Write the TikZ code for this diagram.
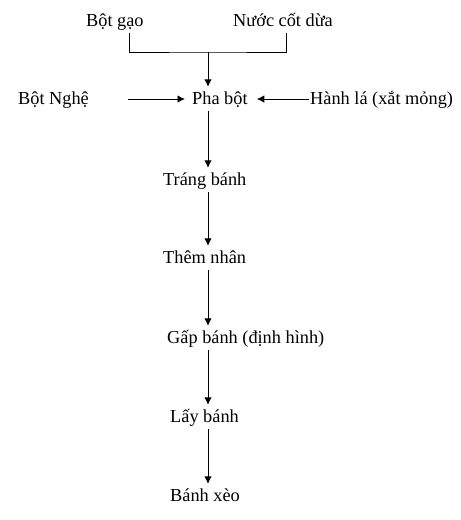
\documentclass[tikz,border=0pt]{standalone}
\usepackage{fontspec}
\setmainfont{Liberation Serif}
\usetikzlibrary{arrows.meta,positioning}
\begin{document}
\begin{tikzpicture}[x=1pt,y=-1pt,
	stage/.style={anchor=base west,inner sep=0pt,inner ysep=3pt,text height=14pt,text depth=4pt,font=\fontsize{18.3}{20}\selectfont},
	flow/.style={-{Latex[length=7.5pt,width=7.5pt]},line width=0.9pt}]
	\useasboundingbox (0,0) rectangle (461,520);
	%% the ingredients
	\node[stage] (gao) at (86,26) {Bột gạo};
	\node[stage] (nuoc) at (233,26) {Nước cốt dừa};
	\node[stage] (nghe) at (18,104) {Bột Nghệ};
	\node[stage] (pha) at (192,104) {Pha bột};
	\node[stage] (hanh) at (310,104) {Hành lá (xắt mỏng)};
	%% the steps
	\node[stage] (trang) at (163,185) {Tráng bánh};
	\node[stage] (them) at (163,263) {Thêm nhân};
	\node[stage] (gap) at (167,343) {Gấp bánh (định hình)};
	\node[stage] (lay) at (170,422) {Lấy bánh};
	\node[stage] (xeo) at (170,501) {Bánh xèo};
	% helper points
	\coordinate (spine) at (208,0);
	\coordinate (join) at (208,52);
	\coordinate (lft) at (129,0);
	\coordinate (rgt) at (286,0);
	% bracket
	\draw[line width=0.9pt] (gao.south -| lft) |- (join) -| (nuoc.south -| rgt);
	\draw[flow] (join) -- (pha.north -| spine);
	\draw[flow] ([xshift=39pt]nghe.east) -- ([xshift=-7pt]pha.west);
	\draw[flow] ([xshift=-1pt]hanh.west) -- ([xshift=9pt]pha.east);
	% the chain
	\draw[flow] (pha.south -| spine) -- (trang.north -| spine);
	\draw[flow] (trang.south -| spine) -- (them.north -| spine);
	\draw[flow] (them.south -| spine) -- (gap.north -| spine);
	\draw[flow] (gap.south -| spine) -- (lay.north -| spine);
	\draw[flow] (lay.south -| spine) -- (xeo.north -| spine);
\end{tikzpicture}
\end{document}
